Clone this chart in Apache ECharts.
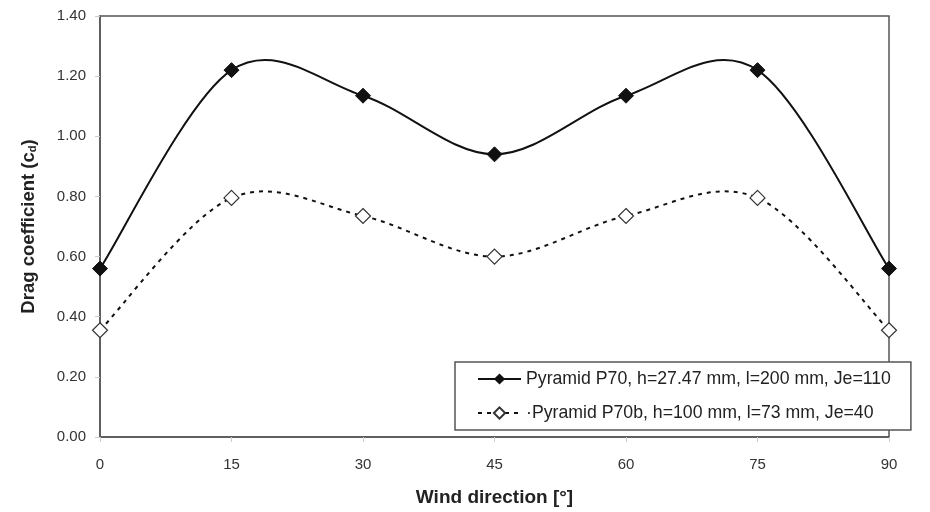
<!DOCTYPE html>
<html><head><meta charset="utf-8">
<script src="https://cdn.jsdelivr.net/npm/echarts@6/dist/echarts.min.js"></script>
<style>html,body{margin:0;padding:0;background:#fff}#c{width:930px;height:512px}</style>
</head><body><div id="c"></div>
<script>
const windDirection = [0, 15, 30, 45, 60, 75, 90];
const p70 = [0.56, 1.22, 1.135, 0.94, 1.135, 1.22, 0.56];
const p70b = [0.355, 0.795, 0.735, 0.60, 0.735, 0.795, 0.355];
const seriesNames = ['Pyramid P70, h=27.47 mm, l=200 mm, Je=110', '\u00b7Pyramid P70b, h=100 mm, l=73 mm, Je=40'];

const chart = echarts.init(document.getElementById('c'));
const font = 'Liberation Sans, Arial, sans-serif';

// Excel-style (Catmull-Rom) smoothed curve drawn through the axis scales
function curveRenderer(values, dash) {
  return function (params, api) {
    if (params.dataIndex !== 0) return null;
    const P = windDirection.map((x, i) => api.coord([x, values[i]]));
    const n = P.length;
    const g = i => P[Math.max(0, Math.min(n - 1, i))];
    let d = 'M' + P[0][0] + ' ' + P[0][1];
    for (let i = 0; i < n - 1; i++) {
      const p0 = g(i - 1), p1 = g(i), p2 = g(i + 1), p3 = g(i + 2);
      const c1 = [p1[0] + (p2[0] - p0[0]) / 6, p1[1] + (p2[1] - p0[1]) / 6];
      const c2 = [p2[0] - (p3[0] - p1[0]) / 6, p2[1] - (p3[1] - p1[1]) / 6];
      d += ' C' + c1[0] + ' ' + c1[1] + ' ' + c2[0] + ' ' + c2[1] + ' ' + p2[0] + ' ' + p2[1];
    }
    return {
      type: 'path',
      shape: { pathData: d },
      style: { fill: null, stroke: '#111', lineWidth: 2, lineDash: dash }
    };
  };
}

chart.setOption({
  animation: false,
  textStyle: { fontFamily: font },
  grid: { left: 100, right: 41, top: 16, bottom: 72, show: true, borderColor: '#555', borderWidth: 1.5, backgroundColor: 'transparent' },
  xAxis: {
    type: 'value', min: 0, max: 90, interval: 15,
    name: 'Wind direction [\u00b0]', nameLocation: 'middle', nameGap: 51,
    nameTextStyle: { fontFamily: font, fontSize: 19, fontWeight: 'bold', color: '#222' },
    axisLine: { lineStyle: { color: '#555', width: 1.5 } },
    axisTick: { show: true, length: 5, lineStyle: { color: '#ccc' } },
    axisLabel: { fontFamily: font, fontSize: 15, color: '#333', margin: 20 },
    splitLine: { show: false }
  },
  yAxis: {
    type: 'value', min: 0, max: 1.4, interval: 0.2,
    name: '{a|Drag coefficient (c}{s|d}{a|)}', nameLocation: 'middle', nameGap: 62, nameRotate: 90,
    nameTextStyle: { rich: {
      a: { fontFamily: font, fontSize: 18.5, fontWeight: 'bold', color: '#222' },
      s: { fontFamily: font, fontSize: 11, fontWeight: 'bold', color: '#222', verticalAlign: 'bottom', padding: [8, 0, 0, 0] }
    } },
    axisLine: { show: true, lineStyle: { color: '#555', width: 1.5 } },
    axisTick: { show: true, length: 5, lineStyle: { color: '#ccc' } },
    axisLabel: { fontFamily: font, fontSize: 15, color: '#333', margin: 14, formatter: v => v.toFixed(2) },
    splitLine: { show: false }
  },
  legend: {
    orient: 'vertical', left: 455, top: 362,
    backgroundColor: '#fff', borderColor: '#555', borderWidth: 1.5,
    padding: [8, 20, 8, 22], itemGap: 16, itemWidth: 43, itemHeight: 14,
    textStyle: { fontFamily: font, fontSize: 17.7, color: '#222' },
    data: [
      { name: seriesNames[0], lineStyle: { opacity: 1 } },
      { name: seriesNames[1], lineStyle: { opacity: 1 } }
    ]
  },
  series: [
    {
      name: 'curveA', type: 'custom', z: 2,
      data: windDirection.map((x, i) => [x, p70[i]]),
      encode: { x: 0, y: 1 },
      renderItem: curveRenderer(p70, null), silent: true
    },
    {
      name: 'curveB', type: 'custom', z: 2,
      data: windDirection.map((x, i) => [x, p70b[i]]),
      encode: { x: 0, y: 1 },
      renderItem: curveRenderer(p70b, [4, 5]), silent: true
    },
    {
      name: seriesNames[0], type: 'line', z: 3,
      data: windDirection.map((x, i) => [x, p70[i]]),
      symbol: 'diamond', symbolSize: 15,
      lineStyle: { color: '#111', width: 2, opacity: 0 },
      itemStyle: { color: '#111', borderColor: '#111' }
    },
    {
      name: seriesNames[1], type: 'line', z: 3,
      data: windDirection.map((x, i) => [x, p70b[i]]),
      symbol: 'diamond', symbolSize: 15,
      lineStyle: { color: '#111', width: 2, type: [4, 5], opacity: 0 },
      itemStyle: { color: '#fff', borderColor: '#333', borderWidth: 1.2 }
    }
  ]
});
</script></body></html>
